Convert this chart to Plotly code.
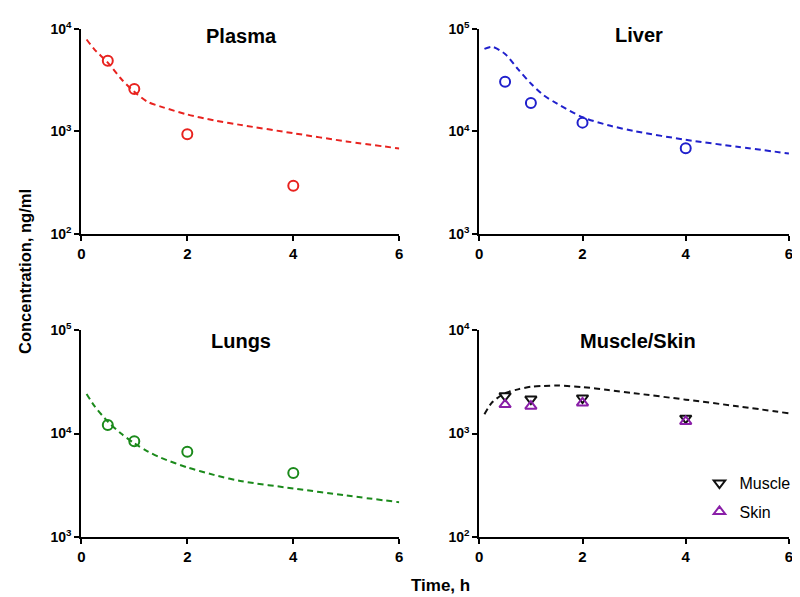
import plotly.graph_objects as go

# ---- data ----
obs_t = [0.5, 1, 2, 4]
plasma_obs = [4900, 2600, 940, 296]
liver_obs = [30500, 19000, 12200, 6850]
lungs_obs = [12100, 8400, 6650, 4150]
muscle_obs = [2320, 2160, 2210, 1410]
skin_obs = [1910, 1840, 1980, 1310]

model_t = [0.1, 0.25, 0.5, 0.75, 1, 1.25, 1.5, 2, 2.5, 3, 4, 5, 6]
plasma_model = [7900, 6300, 4700, 3270, 2440, 1950, 1750, 1466, 1285, 1160, 962, 800, 683]
liver_model = [64000, 67000, 57000, 40600, 29400, 22500, 18800, 13800, 11500, 10100, 8300, 7100, 6100]
lungs_model = [24200, 18450, 13060, 10000, 8060, 6730, 5830, 4700, 3980, 3470, 2940, 2510, 2160]
muscle_model = [1540, 2010, 2460, 2680, 2840, 2890, 2920, 2820, 2640, 2460, 2130, 1840, 1570]

panel_titles = ["Plasma", "Liver", "Lungs", "Muscle/Skin"]
x_ticks = [0, 2, 4, 6]

RED = "#E8231F"
BLUE = "#2020CC"
GREEN = "#1B8A1B"
BLACK = "#111111"
PURPLE = "#8A1FA8"

FONT = "Liberation Sans, Arial, sans-serif"

fig = go.Figure()

xdoms = [[0.0875, 0.489], [0.59, 0.981]]
ydoms = [[0.627, 0.981], [0.104, 0.4606]]

def dashed(x, y, color, xa, ya):
    fig.add_trace(go.Scatter(x=x, y=y, mode="lines", xaxis=xa, yaxis=ya,
                             line=dict(color=color, width=2, dash="6px,4px", shape="spline",
                                       smoothing=0.8),
                             showlegend=False, hoverinfo="skip"))

def points(x, y, color, symbol, xa, ya, name=None, legend=None):
    fig.add_trace(go.Scatter(x=x, y=y, mode="markers", xaxis=xa, yaxis=ya,
                             marker=dict(symbol=symbol, size=10, color=color,
                                         line=dict(color=color, width=2)),
                             name=name, showlegend=name is not None,
                             legend=legend if legend else "legend"))

dashed(model_t, plasma_model, RED, "x", "y")
points(obs_t, plasma_obs, RED, "circle-open", "x", "y")
dashed(model_t, liver_model, BLUE, "x2", "y2")
points(obs_t, liver_obs, BLUE, "circle-open", "x2", "y2")
dashed(model_t, lungs_model, GREEN, "x3", "y3")
points(obs_t, lungs_obs, GREEN, "circle-open", "x3", "y3")
dashed(model_t, muscle_model, BLACK, "x4", "y4")
points(obs_t, muscle_obs, BLACK, "triangle-down-open", "x4", "y4", name="Muscle", legend="legend")
points(obs_t, skin_obs, PURPLE, "triangle-up-open", "x4", "y4", name="Skin", legend="legend2")

yranges = [(2, 4), (3, 5), (3, 5), (2, 4)]

layout = dict(
    width=800, height=597,
    margin=dict(l=0, r=0, t=0, b=0),
    paper_bgcolor="white", plot_bgcolor="white",
    font=dict(family=FONT, color="black"),
    legend=dict(x=0.868, y=0.226, xanchor="left", yanchor="top",
                font=dict(size=16, family=FONT), bgcolor="rgba(0,0,0,0)"),
    legend2=dict(x=0.868, y=0.177, xanchor="left", yanchor="top",
                 font=dict(size=16, family=FONT), bgcolor="rgba(0,0,0,0)"),
)

for i in range(4):
    r, c = divmod(i, 2)
    sfx = "" if i == 0 else str(i + 1)
    lo, hi = yranges[i]
    major_vals = [10 ** d for d in range(lo, hi + 1)]
    major_text = ["10<sup>%d</sup>" % d for d in range(lo, hi + 1)]
    minor_vals = [m * 10 ** d for d in range(lo, hi) for m in range(2, 10)]
    layout["xaxis" + sfx] = dict(
        domain=xdoms[c], anchor="y" + sfx, range=[0, 6],
        tickvals=x_ticks, ticks="outside", ticklen=5, tickwidth=2, tickcolor="black",
        showline=True, linecolor="black", linewidth=2, showgrid=False, zeroline=False,
        tickfont=dict(size=15, family=FONT, weight="bold"),
    )
    layout["yaxis" + sfx] = dict(
        domain=ydoms[r], anchor="x" + sfx, type="log", range=[lo, hi],
        tickvals=major_vals, ticktext=major_text,
        ticks="outside", ticklen=5, tickwidth=2, tickcolor="black",
        showline=True, linecolor="black", linewidth=2, showgrid=False, zeroline=False,
        tickfont=dict(size=14, family=FONT, weight="bold"),
    )
    # overlay axis carrying the short minor ticks
    msfx = str(i + 5)
    layout["yaxis" + msfx] = dict(
        domain=ydoms[r], anchor="x" + sfx, overlaying="y" + sfx, side="left",
        type="log", range=[lo, hi],
        tickvals=minor_vals,
        ticks="outside", ticklen=3, tickwidth=1.5, tickcolor="black",
        showline=False, showgrid=False, zeroline=False, showticklabels=False,
    )

fig.update_layout(**layout)

title_pos = [(232, 19), (633, 18), (231, 333), (632, 333)]
for t, (px, py) in zip(panel_titles, title_pos):
    fig.add_annotation(text="<b>%s</b>" % t, x=px / 800, y=1 - py / 597, xref="paper", yref="paper",
                       showarrow=False, font=dict(size=20, family=FONT, color="black"),
                       xanchor="center", yanchor="middle")

fig.add_annotation(text="<b>Concentration, ng/ml</b>", x=13 / 800, y=1 - 261 / 597,
                   xref="paper", yref="paper", showarrow=False, textangle=-90,
                   font=dict(size=16.5, family=FONT, color="black"), xanchor="center", yanchor="middle")
fig.add_annotation(text="<b>Time, h</b>", x=433 / 800, y=1 - 585 / 597,
                   xref="paper", yref="paper", showarrow=False,
                   font=dict(size=17, family=FONT, color="black"), xanchor="center", yanchor="middle")

fig.write_html("out.html")
